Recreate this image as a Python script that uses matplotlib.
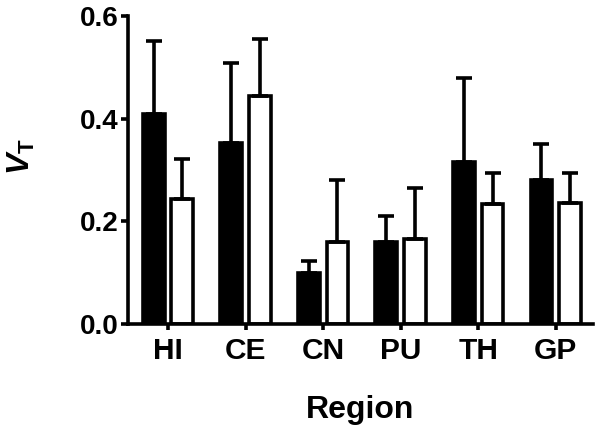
import numpy as np
import matplotlib
matplotlib.use('Agg')
import matplotlib.pyplot as plt

regions = ['HI', 'CE', 'CN', 'PU', 'TH', 'GP']
black_vals = [0.409, 0.353, 0.099, 0.160, 0.316, 0.280]
black_err = [0.142, 0.155, 0.024, 0.050, 0.163, 0.071]
white_vals = [0.244, 0.444, 0.160, 0.166, 0.234, 0.236]
white_err = [0.077, 0.111, 0.120, 0.099, 0.060, 0.058]

plt.rcParams['font.family'] = ['Liberation Sans', 'DejaVu Sans']
plt.rcParams['font.weight'] = 'bold'
plt.rcParams['mathtext.fontset'] = 'custom'
plt.rcParams['mathtext.bf'] = 'Liberation Sans:bold'
plt.rcParams['mathtext.bfit'] = 'Liberation Sans:bold:italic'
plt.rcParams['mathtext.it'] = 'Liberation Sans:bold:italic'
plt.rcParams['mathtext.rm'] = 'Liberation Sans:bold'

fig = plt.figure(figsize=(6, 4.33), dpi=100)
ax = fig.add_axes([0.2133, 0.2517, 0.775, 0.7113])

x = np.arange(len(regions))
w = 0.28
off = 0.185
lw = 2.6
ekw = dict(elinewidth=lw, capthick=lw, capsize=5.5, ecolor='black')

ax.bar(x - off, black_vals, w, color='black', edgecolor='black', linewidth=lw,
       yerr=[np.zeros(len(x)), black_err], error_kw=ekw, zorder=2)
ax.bar(x + off, white_vals, w, color='white', edgecolor='black', linewidth=lw,
       yerr=[np.zeros(len(x)), white_err], error_kw=ekw, zorder=2)

ax.set_xlim(-0.516, 5.48)
ax.set_ylim(0, 0.6)
ax.set_yticks([0.0, 0.2, 0.4, 0.6])
ax.set_yticklabels(['0.0', '0.2', '0.4', '0.6'], fontsize=20, fontweight='bold')
ax.set_xticks(x)
ax.set_xticklabels(regions, fontsize=21.5, fontweight='bold')

for s in ['top', 'right']:
    ax.spines[s].set_visible(False)
for s in ['left', 'bottom']:
    ax.spines[s].set_linewidth(lw)
ax.tick_params(axis='y', width=lw, length=5, pad=2)
ax.tick_params(axis='x', width=lw, length=4, pad=5)

fig.text(0.036, 1 - 157 / 433, r'$\mathit{V}_\mathrm{T}$', fontsize=23,
         rotation=90, ha='center', va='center')
ax.set_xlabel('Region', fontsize=23, fontweight='bold', labelpad=22)

fig.savefig('out.png', dpi=100)
